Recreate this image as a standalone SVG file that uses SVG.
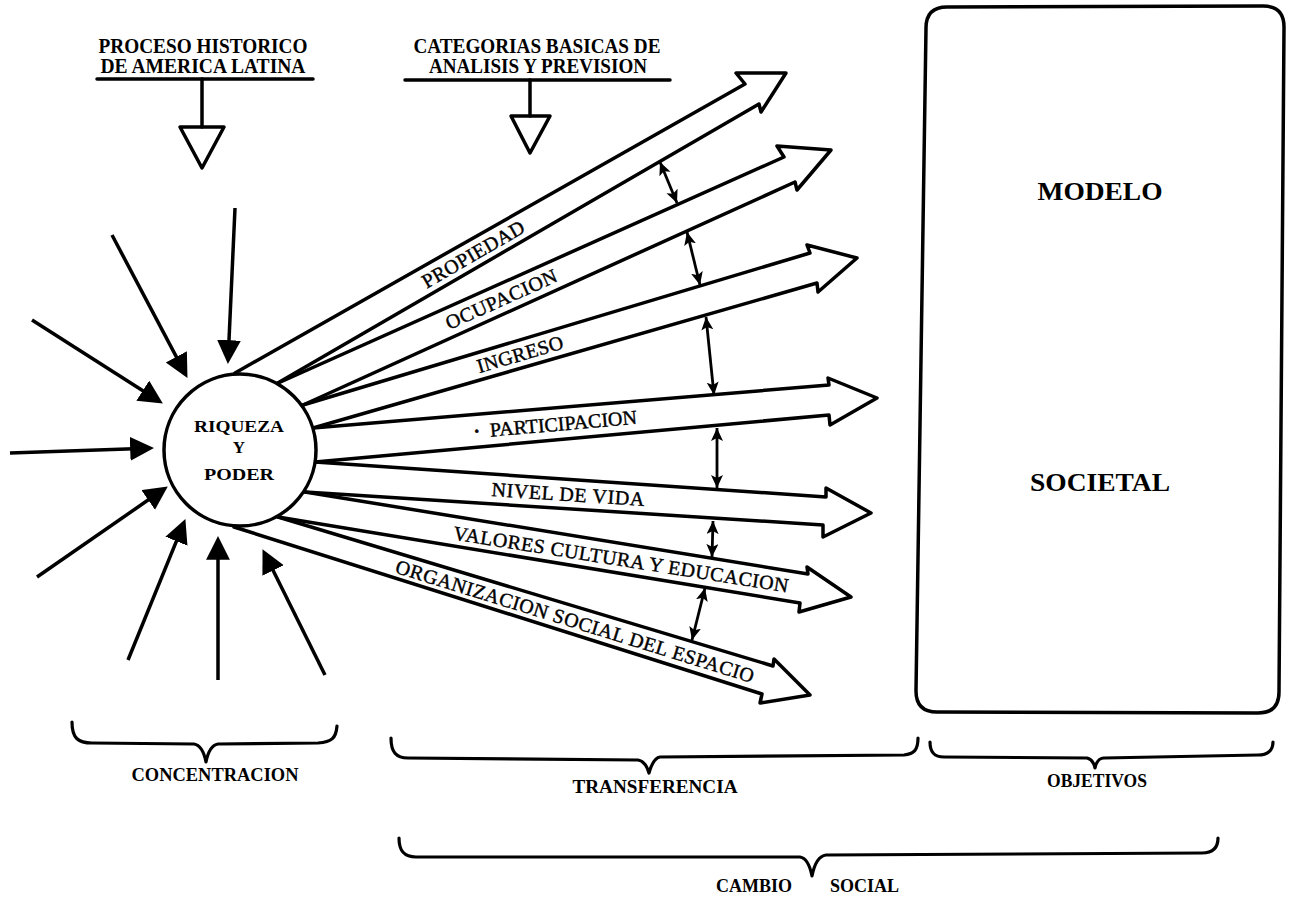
<svg xmlns="http://www.w3.org/2000/svg" width="1289" height="904" viewBox="0 0 1289 904">
<style>
.ln{fill:none;stroke:#000;stroke-width:3.5;stroke-linejoin:round;stroke-linecap:round}
.thin{fill:none;stroke:#000;stroke-width:2.8}
.in{fill:none;stroke:#000;stroke-width:3.5;stroke-linecap:butt}
.big{fill:none;stroke:#000;stroke-width:3.5;stroke-linejoin:round;stroke-linecap:round}
.brace{fill:none;stroke:#000;stroke-width:3.2;stroke-linejoin:round;stroke-linecap:round}
.t{font-family:"Liberation Serif","Times New Roman",serif;fill:#000}
.title{font-size:20px;font-weight:bold}
.lab{font-size:20px;stroke:#000;stroke-width:0.4}
.bot{font-size:18px;font-weight:bold}
.big-t{font-size:26px;font-weight:bold}
</style>
<defs>
<marker id="head" markerUnits="userSpaceOnUse" markerWidth="26" markerHeight="26" viewBox="0 0 24 24" refX="10" refY="11" orient="auto">
<path d="M0,0 L22,11 L0,22 Z" fill="#000"/>
</marker>
<marker id="dbl" markerUnits="userSpaceOnUse" markerWidth="14" markerHeight="14" viewBox="0 0 14 14" refX="13" refY="6" orient="auto-start-reverse">
<path d="M0,0 L13,6 L0,12 L3,6 Z" fill="#000"/>
</marker>
</defs>
<rect width="1289" height="904" fill="#fff"/>

<g id="title-proceso">
<text class="t title" x="203" y="53" text-anchor="middle" textLength="209" lengthAdjust="spacingAndGlyphs">PROCESO HISTORICO</text>
<text class="t title" x="203" y="73" text-anchor="middle" textLength="205" lengthAdjust="spacingAndGlyphs">DE AMERICA LATINA</text>
<line class="ln" x1="97" y1="79" x2="313" y2="79"/>
<line class="ln" x1="202" y1="79" x2="202" y2="127"/>
<polygon class="ln" points="180,127 224,127 202,168" fill="#fff"/>
</g>

<g id="title-categorias">
<text class="t title" x="537" y="53" text-anchor="middle" textLength="247" lengthAdjust="spacingAndGlyphs">CATEGORIAS BASICAS DE</text>
<text class="t title" x="538" y="73" text-anchor="middle" textLength="218" lengthAdjust="spacingAndGlyphs">ANALISIS Y PREVISION</text>
<line class="ln" x1="405" y1="80" x2="670" y2="80"/>
<line class="ln" x1="530" y1="80" x2="530" y2="116"/>
<polygon class="ln" points="511,116 550,116 530,153" fill="#fff"/>
</g>

<g id="connectors">
<line class="in" x1="112" y1="235" x2="181.4" y2="366.4" marker-end="url(#head)"/>
<line class="in" x1="235" y1="208" x2="228.5" y2="351" marker-end="url(#head)"/>
<line class="in" x1="32" y1="320" x2="151.9" y2="396.5" marker-end="url(#head)"/>
<line class="in" x1="10" y1="453" x2="141" y2="448.4" marker-end="url(#head)"/>
<line class="in" x1="37" y1="577" x2="157.1" y2="493.8" marker-end="url(#head)"/>
<line class="in" x1="128" y1="660" x2="180.5" y2="531.1" marker-end="url(#head)"/>
<line class="in" x1="218" y1="680" x2="218" y2="549" marker-end="url(#head)"/>
<line class="in" x1="325" y1="675" x2="268.3" y2="560.8" marker-end="url(#head)"/>

<line class="thin" x1="660" y1="162" x2="677" y2="203" marker-start="url(#dbl)" marker-end="url(#dbl)"/>
<line class="thin" x1="687" y1="232" x2="700" y2="285" marker-start="url(#dbl)" marker-end="url(#dbl)"/>
<line class="thin" x1="706" y1="317" x2="714" y2="395" marker-start="url(#dbl)" marker-end="url(#dbl)"/>
<line class="thin" x1="717" y1="428" x2="717" y2="488" marker-start="url(#dbl)" marker-end="url(#dbl)"/>
<line class="thin" x1="713" y1="521" x2="712" y2="557" marker-start="url(#dbl)" marker-end="url(#dbl)"/>
<line class="thin" x1="705" y1="588" x2="692" y2="640" marker-start="url(#dbl)" marker-end="url(#dbl)"/>
</g>

<g id="arrow-propiedad">
<polyline class="big" points="235,373 745,84 736,73 786,73 761,112 759,104 276,384"/>
<text class="t lab" transform="translate(473,254) rotate(-30)" text-anchor="middle" dominant-baseline="central" textLength="115" lengthAdjust="spacing">PROPIEDAD</text>
</g>
<g id="arrow-ocupacion">
<polyline class="big" points="276,384 784,157 777,146 831,150 797,190 795,182 303,405"/>
<text class="t lab" transform="translate(501,299) rotate(-24.2)" text-anchor="middle" dominant-baseline="central" textLength="120" lengthAdjust="spacing">OCUPACION</text>
</g>
<g id="arrow-ingreso">
<polyline class="big" points="303,405 810,253 807,245 857,258 818,292 817,283 313,428"/>
<text class="t lab" transform="translate(520,354) rotate(-16.4)" text-anchor="middle" dominant-baseline="central" textLength="89" lengthAdjust="spacing">INGRESO</text>
</g>
<g id="arrow-participacion">
<polyline class="big" points="313,428 829,385 828,378 877,398 830,425 829,415 315,462"/>
<text class="t lab" transform="translate(555,424) rotate(-5)" text-anchor="middle" dominant-baseline="central"><tspan font-weight="bold">·</tspan><tspan dx="10">PARTICIPACION</tspan></text>
</g>
<g id="arrow-nivel">
<polyline class="big" points="315,462 826,497 826,488 871,513 823,537 823,525 305,492"/>
<text class="t lab" transform="translate(568,494) rotate(3.8)" text-anchor="middle" dominant-baseline="central" textLength="153" lengthAdjust="spacing">NIVEL DE VIDA</text>
</g>
<g id="arrow-valores">
<polyline class="big" points="305,492 808,574 807,567 851,597 799,612 800,603 278,517"/>
<text class="t lab" transform="translate(621,559) rotate(9)" text-anchor="middle" dominant-baseline="central" textLength="339" lengthAdjust="spacing">VALORES CULTURA Y EDUCACION</text>
</g>
<g id="arrow-organizacion">
<polyline class="big" points="278,517 773,666 774,659 810,695 760,703 762,694 234,527"/>
<text class="t lab" transform="translate(575,621) rotate(17.2)" text-anchor="middle" dominant-baseline="central" textLength="374" lengthAdjust="spacing">ORGANIZACION SOCIAL DEL ESPACIO</text>
</g>

<g id="node-riqueza">
<circle cx="240" cy="450" r="76" fill="#fff" stroke="#000" stroke-width="3.5"/>
<text class="t" font-size="17" font-weight="bold" x="239" y="432" text-anchor="middle" textLength="90" lengthAdjust="spacingAndGlyphs">RIQUEZA</text>
<text class="t" font-size="17" font-weight="bold" x="239" y="453" text-anchor="middle">Y</text>
<text class="t" font-size="17" font-weight="bold" x="239" y="480" text-anchor="middle" textLength="70" lengthAdjust="spacingAndGlyphs">PODER</text>
</g>

<g id="node-modelo">
<path class="ln" d="M947,7 L1263,6 Q1284,6 1284,27 L1279,692 Q1279,713 1258,713 L937,712 Q916,712 916,691 L926,28 Q926,7 947,7 Z"/>
<text class="t big-t" x="1100" y="200" text-anchor="middle" textLength="125" lengthAdjust="spacingAndGlyphs">MODELO</text>
<text class="t big-t" x="1100" y="491" text-anchor="middle" textLength="140" lengthAdjust="spacingAndGlyphs">SOCIETAL</text>
</g>

<g id="brace-concentracion">
<path class="brace" d="M72,722 C72,738 78,743 92,743 L194,744 C200,745 204,752 206,762 C208,752 212,745 218,744 L318,743 C332,742 336,738 337,726"/>
<text class="t bot" x="215" y="781" text-anchor="middle" textLength="167" lengthAdjust="spacingAndGlyphs">CONCENTRACION</text>
</g>
<g id="brace-transferencia">
<path class="brace" d="M391,738 C391,752 396,758 408,758 L638,760 C644,761 647,766 649,773 C651,766 654,758 660,757 L904,755 C914,754 918,750 918,738"/>
<text class="t bot" x="655" y="793" text-anchor="middle" textLength="165" lengthAdjust="spacingAndGlyphs">TRANSFERENCIA</text>
</g>
<g id="brace-objetivos">
<path class="brace" d="M930,742 C930,752 934,757 944,757 L1087,758 C1091,759 1094,763 1095,768 C1096,763 1099,758 1104,758 L1258,755 C1268,755 1273,750 1273,742"/>
<text class="t bot" x="1097" y="787" text-anchor="middle" textLength="100" lengthAdjust="spacingAndGlyphs">OBJETIVOS</text>
</g>
<g id="brace-cambio">
<path class="brace" d="M399,838 C399,851 404,857 416,857 L800,857 C806,858 810,866 812,876 C814,866 818,856 826,855 L1202,853 C1213,853 1218,848 1218,838"/>
<text class="t bot" y="892"><tspan x="716">CAMBIO</tspan><tspan x="830">SOCIAL</tspan></text>
</g>
</svg>
